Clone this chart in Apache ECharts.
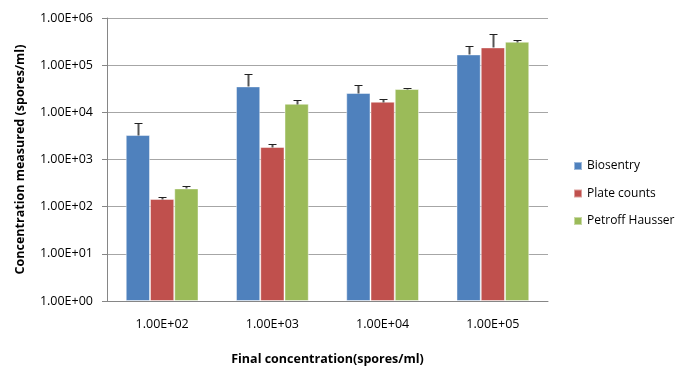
<!DOCTYPE html>
<html>
<head>
<meta charset="utf-8">
<script src="https://cdn.jsdelivr.net/npm/echarts@6/dist/echarts.min.js"></script>
<style>
  html, body { margin: 0; padding: 0; background: #fff; }
  #chart { width: 687px; height: 373px; }
</style>
</head>
<body>
<div id="chart"></div>
<script>
// categories on the x axis
var categories = ['1.00E+02', '1.00E+03', '1.00E+04', '1.00E+05'];
var seriesNames = ['Biosentry', 'Plate counts', 'Petroff Hausser'];
// bar heights (spores/ml)
var biosentry = [3300, 35500, 25700, 169000];
var plateCounts = [146, 1840, 16800, 238000];
var petroff = [244, 15200, 31200, 314000];
// top of the error bars
var biosentryErr = [5900, 63500, 37300, 255000];
var plateCountsErr = [160, 2090, 18800, 458000];
var petroffErr = [278, 17900, 32100, 341000];

var colors = ['#4f81bd', '#c0504d', '#9bbb59'];
var values = [biosentry, plateCounts, petroff];
var errTops = [biosentryErr, plateCountsErr, petroffErr];
var barPct = 0.22;

var font = '"Open Sans", sans-serif';

function sciLabel(v) {
    var e = Math.round(Math.log10(v));
    return '1.00E+' + (e < 10 ? '0' + e : e);
}

var series = [];
seriesNames.forEach(function (name, i) {
    series.push({
        name: name,
        type: 'bar',
        data: values[i],
        barWidth: (barPct * 100) + '%',
        barGap: '0%',
        itemStyle: { color: colors[i], borderColor: 'rgba(255,255,255,0.45)', borderWidth: 1 },
        emphasis: { disabled: true }
    });
});
// error bars, drawn on top of the bars
seriesNames.forEach(function (name, i) {
    series.push({
        type: 'custom',
        silent: true,
        z: 5,
        data: categories.map(function (c, j) { return [j, values[i][j], errTops[i][j]]; }),
        renderItem: function (params, api) {
            var band = api.size([1, 0])[0];
            var off = (i - 1) * band * barPct;
            var base = api.coord([api.value(0), api.value(1)]);
            var top = api.coord([api.value(0), api.value(2)]);
            var x = Math.round(base[0] + off) + 0.5;
            var yb = Math.round(base[1]) + 0.5;
            var yt = Math.round(top[1]) + 0.5;
            return {
                type: 'group',
                children: [
                    { type: 'line', shape: { x1: x, y1: yb, x2: x, y2: yt }, style: { stroke: '#555', lineWidth: 2 } },
                    { type: 'line', shape: { x1: x - 4, y1: yt, x2: x + 4, y2: yt }, style: { stroke: '#222', lineWidth: 1 } }
                ]
            };
        }
    });
});

var chart = echarts.init(document.getElementById('chart'));
chart.setOption({
    animation: false,
    textStyle: { fontFamily: font },
    grid: { left: 107, right: 139, top: 18, bottom: 72 },
    legend: {
        orient: 'vertical',
        left: 568,
        top: 155,
        itemWidth: 8,
        itemHeight: 8,
        itemGap: 15.5,
        icon: 'rect',
        data: seriesNames,
        textStyle: { fontFamily: font, fontSize: 12, color: '#000' }
    },
    xAxis: {
        type: 'category',
        data: categories,
        name: 'Final concentration(spores/ml)',
        nameLocation: 'middle',
        nameGap: 52,
        nameTextStyle: { fontFamily: font, fontSize: 12.5, fontWeight: 'bold', color: '#000' },
        axisLine: { lineStyle: { color: '#868686' } },
        axisTick: { show: false },
        axisLabel: { color: '#000', fontSize: 12.5, margin: 17, fontFamily: font }
    },
    yAxis: {
        type: 'log',
        logBase: 10,
        min: 1,
        max: 1000000,
        name: 'Concentration measured (spores/ml)',
        nameLocation: 'middle',
        nameGap: 80,
        nameTextStyle: { fontFamily: font, fontSize: 12.5, fontWeight: 'bold', color: '#000' },
        axisLine: { show: true, lineStyle: { color: '#868686' } },
        axisTick: { show: true, length: 5, lineStyle: { color: '#868686' } },
        minorTick: { show: false },
        splitLine: { lineStyle: { color: '#a6a6a6' } },
        axisLabel: { color: '#000', fontSize: 12.5, margin: 14, fontFamily: font, formatter: sciLabel }
    },
    series: series
});
</script>
</body>
</html>
